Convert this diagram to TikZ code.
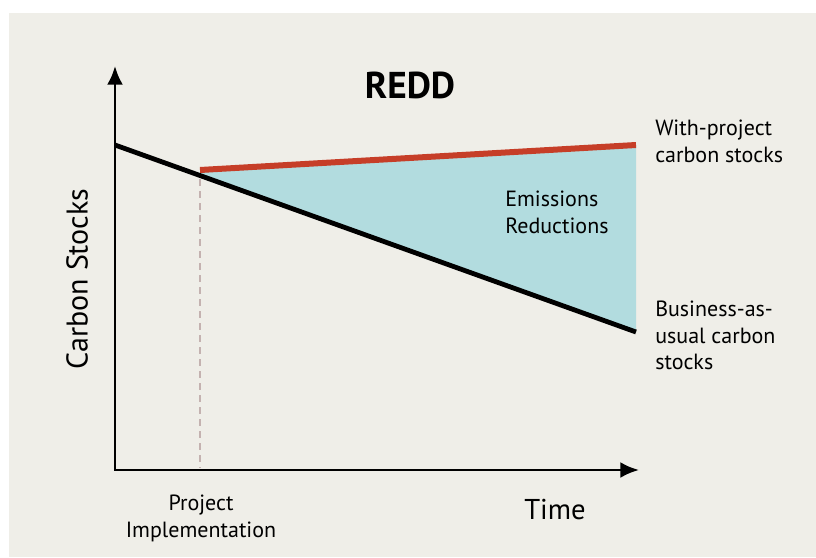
\documentclass[tikz,border=0pt]{standalone}
\usepackage{fontspec}
\setmainfont{PT Sans}
\usetikzlibrary{arrows,arrows.meta,positioning}
\definecolor{paper}{RGB}{239,238,232}
\definecolor{gap}{RGB}{178,220,223}
\definecolor{projred}{RGB}{198,62,40}
\definecolor{implgrey}{RGB}{196,178,176}
\tikzset{
  >={Latex[length=14pt,width=12pt]}
}

\begin{document}
\begin{tikzpicture}[x=0.75pt,y=-0.75pt,
    curvelbl/.style={anchor=north west,align=left,inner sep=0pt,font=\fontsize{16.5}{19.8}\selectfont},
    axislbl/.style={inner sep=0pt,font=\fontsize{20}{24}\selectfont}]
        \useasboundingbox (0,0) rectangle (816,557);
        \fill[paper] (9,13) rectangle (816,557);

        \coordinate (O) at (115,470);
        \coordinate (Ytop) at (115,66);
        \coordinate (Xend) at (639,470);
        \coordinate (B0) at (115,145);
        \coordinate (P) at (200,175.5);
        \coordinate (B1) at (636,332);
        \coordinate (R0) at (200,170);
        \coordinate (R1) at (636,145);
        \coordinate (Pt) at (200,179);
        \coordinate (Pb) at (200,468);

        \fill[gap] (R0) -- (R1) -- (B1) -- (P) -- cycle;
        \draw[implgrey,line width=1pt,dash pattern=on 5pt off 4pt] (Pt) -- (Pb);
        \draw[line width=3.6pt] (B0) -- (B1);
        \draw[projred,line width=4.5pt] (R0) -- (R1);
        \draw[line width=2.2pt,<->] (Ytop) |- (Xend);

        \node (title) at (410,85) [inner sep=0pt,font=\fontsize{28}{32}\selectfont\bfseries] {REDD};
        \node (ylab) at (77,279) [axislbl,rotate=90,font=\fontsize{22.5}{26}\selectfont] {Carbon Stocks};
        \node (xlab) at (555,510) [axislbl,font=\fontsize{21.5}{26}\selectfont] {Time};
        \node (proj) at (655,120) [curvelbl] {With-project\\carbon stocks};
        \node (bau) at (655,301) [curvelbl] {Business-as-\\usual carbon\\stocks};
        \node (er) at (505,191) [curvelbl] {Emissions\\Reductions};
        \node (impl) at (201,495) [anchor=north,align=center,inner sep=0pt,font=\fontsize{16.5}{19.8}\selectfont] {Project\\Implementation};
    \end{tikzpicture}
\end{document}
